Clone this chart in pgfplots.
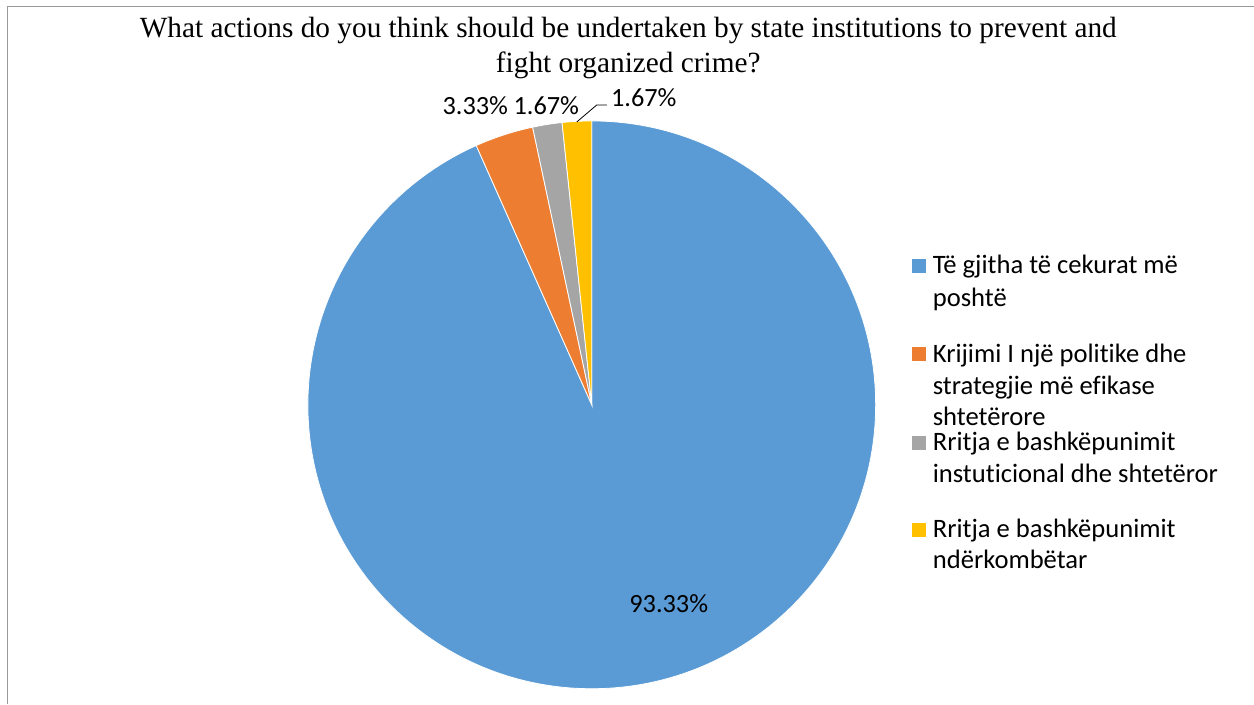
\documentclass[border=0pt]{standalone}
\usepackage{pgfplots}
\pgfplotsset{compat=1.18}
\usepackage{fontspec}
\setmainfont{Liberation Serif}
\newfontfamily\calibri[Ligatures={NoCommon}]{Carlito}
\definecolor{pieblue}{HTML}{5B9BD5}
\definecolor{pieorange}{HTML}{ED7D31}
\definecolor{piegray}{HTML}{A5A5A5}
\definecolor{pieyellow}{HTML}{FFC000}
\begin{document}
\begin{tikzpicture}
\begin{axis}[
  at={(0,0)}, anchor=south west,
  scale only axis, width=1254bp, height=704bp,
  xmin=0, xmax=1254, ymin=0, ymax=704, y dir=reverse,
  hide axis, clip=false,
]
% bounding box
\path (axis cs:0,0) rectangle (axis cs:1254,704);
% chart border (left and top)
\draw[gray!80, line width=1bp] (axis cs:8,704) -- (axis cs:8,7) -- (axis cs:1254,7);
% title
\node[anchor=base, font=\fontsize{29.3bp}{35bp}\selectfont] at (axis cs:628.5,38) {What actions do you think should be undertaken by state institutions to prevent and};
\node[anchor=base, font=\fontsize{29.3bp}{35bp}\selectfont] at (axis cs:628.5,73) {fight organized crime?};
% pie slices: 93.33, 3.33, 1.67, 1.67 (percent), clockwise from 12 o'clock
\fill[pieblue, draw=white, line width=0.8bp] (axis cs:592,405) -- ++(90:284bp) arc[start angle=90, end angle={90-3.6*93.33}, radius=284bp] -- cycle;
\fill[pieorange, draw=white, line width=0.8bp] (axis cs:592,405) -- ++({90-3.6*93.33}:284bp) arc[start angle={90-3.6*93.33}, end angle={90-3.6*(93.33+3.33)}, radius=284bp] -- cycle;
\fill[piegray, draw=white, line width=0.8bp] (axis cs:592,405) -- ++({90-3.6*(93.33+3.33)}:284bp) arc[start angle={90-3.6*(93.33+3.33)}, end angle={90-3.6*(93.33+3.33+1.67)}, radius=284bp] -- cycle;
\fill[pieyellow, draw=white, line width=0.8bp] (axis cs:592,405) -- ++({90-3.6*(93.33+3.33+1.67)}:284bp) arc[start angle={90-3.6*(93.33+3.33+1.67)}, end angle=-270, radius=284bp] -- cycle;
% data labels
\begin{scope}[every node/.style={font=\calibri\fontsize{26.3bp}{30bp}\selectfont, anchor=base, inner sep=0pt}]
\node at (axis cs:669,613) {93.33\%};
\node at (axis cs:475.5,115) {3.33\%};
\node at (axis cs:546.5,115) {1.67\%};
\node at (axis cs:644,107) {1.67\%};
\end{scope}
\draw[black, line width=0.8bp] (axis cs:577,122) -- (axis cs:597,105) -- (axis cs:607,105);
% legend
\fill[pieblue] (axis cs:912,259) rectangle (axis cs:926,273);
\fill[pieorange] (axis cs:912,347) rectangle (axis cs:926,361);
\fill[piegray] (axis cs:912,436) rectangle (axis cs:926,450);
\fill[pieyellow] (axis cs:912,523) rectangle (axis cs:926,537);
\begin{scope}[every node/.style={font=\calibri\fontsize{26.6bp}{30bp}\selectfont, anchor=base west, inner sep=0pt}]
\node at (axis cs:933,274) {Të gjitha të cekurat më};
\node at (axis cs:933,307) {poshtë};
\node at (axis cs:933,363) {Krijimi I një politike dhe};
\node at (axis cs:933,395) {strategjie më efikase};
\node at (axis cs:933,426) {shtetërore};
\node at (axis cs:933,451) {Rritja e bashkëpunimit};
\node at (axis cs:933,483) {instuticional dhe shtetëror};
\node at (axis cs:933,538) {Rritja e bashkëpunimit};
\node at (axis cs:933,569) {ndërkombëtar};
\end{scope}
\end{axis}
\end{tikzpicture}
\end{document}
